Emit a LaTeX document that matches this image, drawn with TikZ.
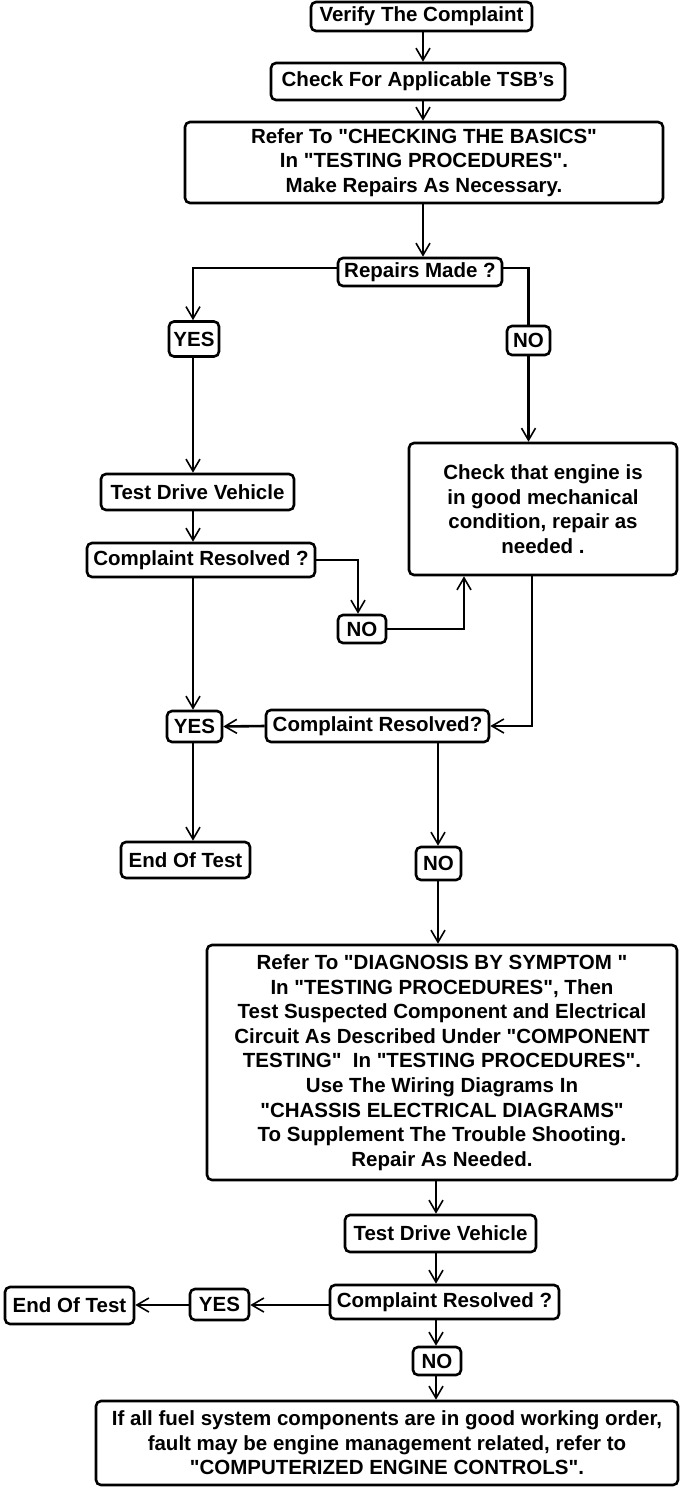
\documentclass[tikz,border=0pt]{standalone}
\usepackage{fontspec}
\setmainfont{Liberation Sans}[Ligatures=TeXOff]
\usetikzlibrary{arrows.meta}
\begin{document}
\begin{tikzpicture}[x=1pt,y=-1pt,
  box/.style={draw,line width=2.6pt,rounded corners=5pt,inner sep=0pt,align=center,
    font=\fontsize{20.5}{24.6}\selectfont\bfseries},
  conn/.style={line width=2.6pt},
  arr/.style={conn,-{Straight Barb[length=12pt,width=14pt,line width=1.6pt]}}]
\useasboundingbox (0,0) rectangle (688,1488);
\fill[white] (0,0) rectangle (688,1488);
% columns
\coordinate (c423) at (423,0);
\coordinate (c193) at (193,0);
\coordinate (c358) at (358,0);
\coordinate (c464) at (464,0);
\coordinate (c532) at (532,0);
\coordinate (c438) at (438,0);
\coordinate (c436) at (436,0);
\coordinate (r268) at (0,268);
\coordinate (r1305) at (0,1305);
% nodes
\node[box,minimum width=221pt,minimum height=29pt] (v1) at (421.5,16.5) {Verify The Complaint};
\node[box,minimum width=294pt,minimum height=37pt] (v2) at (418,81.5) {Check For Applicable TSB’s};
\node[box,minimum width=478pt,minimum height=81pt] (v3) at (424,162.5) {Refer To "CHECKING THE BASICS"\\In "TESTING PROCEDURES".\\Make Repairs As Necessary.};
\node[box,minimum width=164pt,minimum height=28pt] (rm) at (420,272) {Repairs Made ?};
\node[box,minimum width=50pt,minimum height=35pt] (yes1) at (194,339) {YES};
\node[box,minimum width=43pt,minimum height=29pt] (no1) at (528.5,340.5) {NO};
\node[box,minimum width=268pt,minimum height=132pt] (ce) at (543,509) {Check that engine is\\in good mechanical\\condition, repair as\\needed .};
\node[box,minimum width=193pt,minimum height=36pt] (td1) at (197.5,492) {Test Drive Vehicle};
\node[box,minimum width=228pt,minimum height=34pt] (cr1) at (201,560) {Complaint Resolved ?};
\node[box,minimum width=48pt,minimum height=28pt] (no2) at (362,629) {NO};
\node[box,minimum width=223pt,minimum height=32pt] (cr2) at (377.5,726) {Complaint Resolved?};
\node[box,minimum width=55pt,minimum height=31pt] (yes2) at (194.5,726.5) {YES};
\node[box,minimum width=129pt,minimum height=36pt] (eot1) at (185.5,860) {End Of Test};
\node[box,minimum width=45pt,minimum height=33pt] (no3) at (438.5,863.5) {NO};
\node[box,minimum width=470pt,minimum height=235pt] (ref2) at (442,1062.5) {Refer To "DIAGNOSIS BY SYMPTOM "\\In "TESTING PROCEDURES", Then\\Test Suspected Component and Electrical\\Circuit As Described Under "COMPONENT\\TESTING"\ \ In "TESTING PROCEDURES".\\Use The Wiring Diagrams In\\"CHASSIS ELECTRICAL DIAGRAMS"\\To Supplement The Trouble Shooting.\\Repair As Needed.};
\node[box,minimum width=191pt,minimum height=37pt] (td2) at (440.5,1233.5) {Test Drive Vehicle};
\node[box,minimum width=229pt,minimum height=34pt] (cr3) at (444.5,1302) {Complaint Resolved ?};
\node[box,minimum width=59pt,minimum height=31pt] (yes3) at (219.5,1304.5) {YES};
\node[box,minimum width=129pt,minimum height=37pt] (eot2) at (69.5,1305.5) {End Of Test};
\node[box,minimum width=48pt,minimum height=28pt] (no4) at (437,1361) {NO};
\node[box,minimum width=582pt,minimum height=84pt] (fin) at (387,1443) {If all fuel system components are in good working order,\\fault may be engine management related, refer to\\"COMPUTERIZED ENGINE CONTROLS".};
% connectors
\draw[arr] (v1.south -| c423) -- (v2.north -| c423);
\draw[arr] (v2.south -| c423) -- (v3.north -| c423);
\draw[arr] (v3.south -| c423) -- (rm.north -| c423);
\draw[arr] (rm.west |- r268) -| (yes1.north -| c193);
\draw[conn] (rm.east |- r268) -| (no1.north);
\draw[arr] (no1.south) -- (no1.south |- ce.north);
\draw[arr] (yes1.south -| c193) -- (td1.north -| c193);
\draw[arr] (td1.south -| c193) -- (cr1.north -| c193);
\draw[arr] (cr1.east) -| (no2.north -| c358);
\draw[arr] (no2.east) -| (ce.south -| c464);
\draw[arr] (ce.south -| c532) |- (cr2.east);
\draw[arr] (cr2.west) -- (yes2.east);
\draw[arr] (cr1.south -| c193) -- (yes2.north -| c193);
\draw[arr] (yes2.south -| c193) -- (eot1.north -| c193);
\draw[arr] (cr2.south -| c438) -- (no3.north -| c438);
\draw[arr] (no3.south -| c438) -- (ref2.north -| c438);
\draw[arr] (ref2.south -| c436) -- (td2.north -| c436);
\draw[arr] (td2.south -| c436) -- (cr3.north -| c436);
\draw[arr] (cr3.south -| c436) -- (no4.north -| c436);
\draw[arr] (no4.south -| c436) -- (fin.north -| c436);
\draw[arr] (cr3.west |- r1305) -- (yes3.east |- r1305);
\draw[arr] (yes3.west |- r1305) -- (eot2.east |- r1305);
\end{tikzpicture}
\end{document}
